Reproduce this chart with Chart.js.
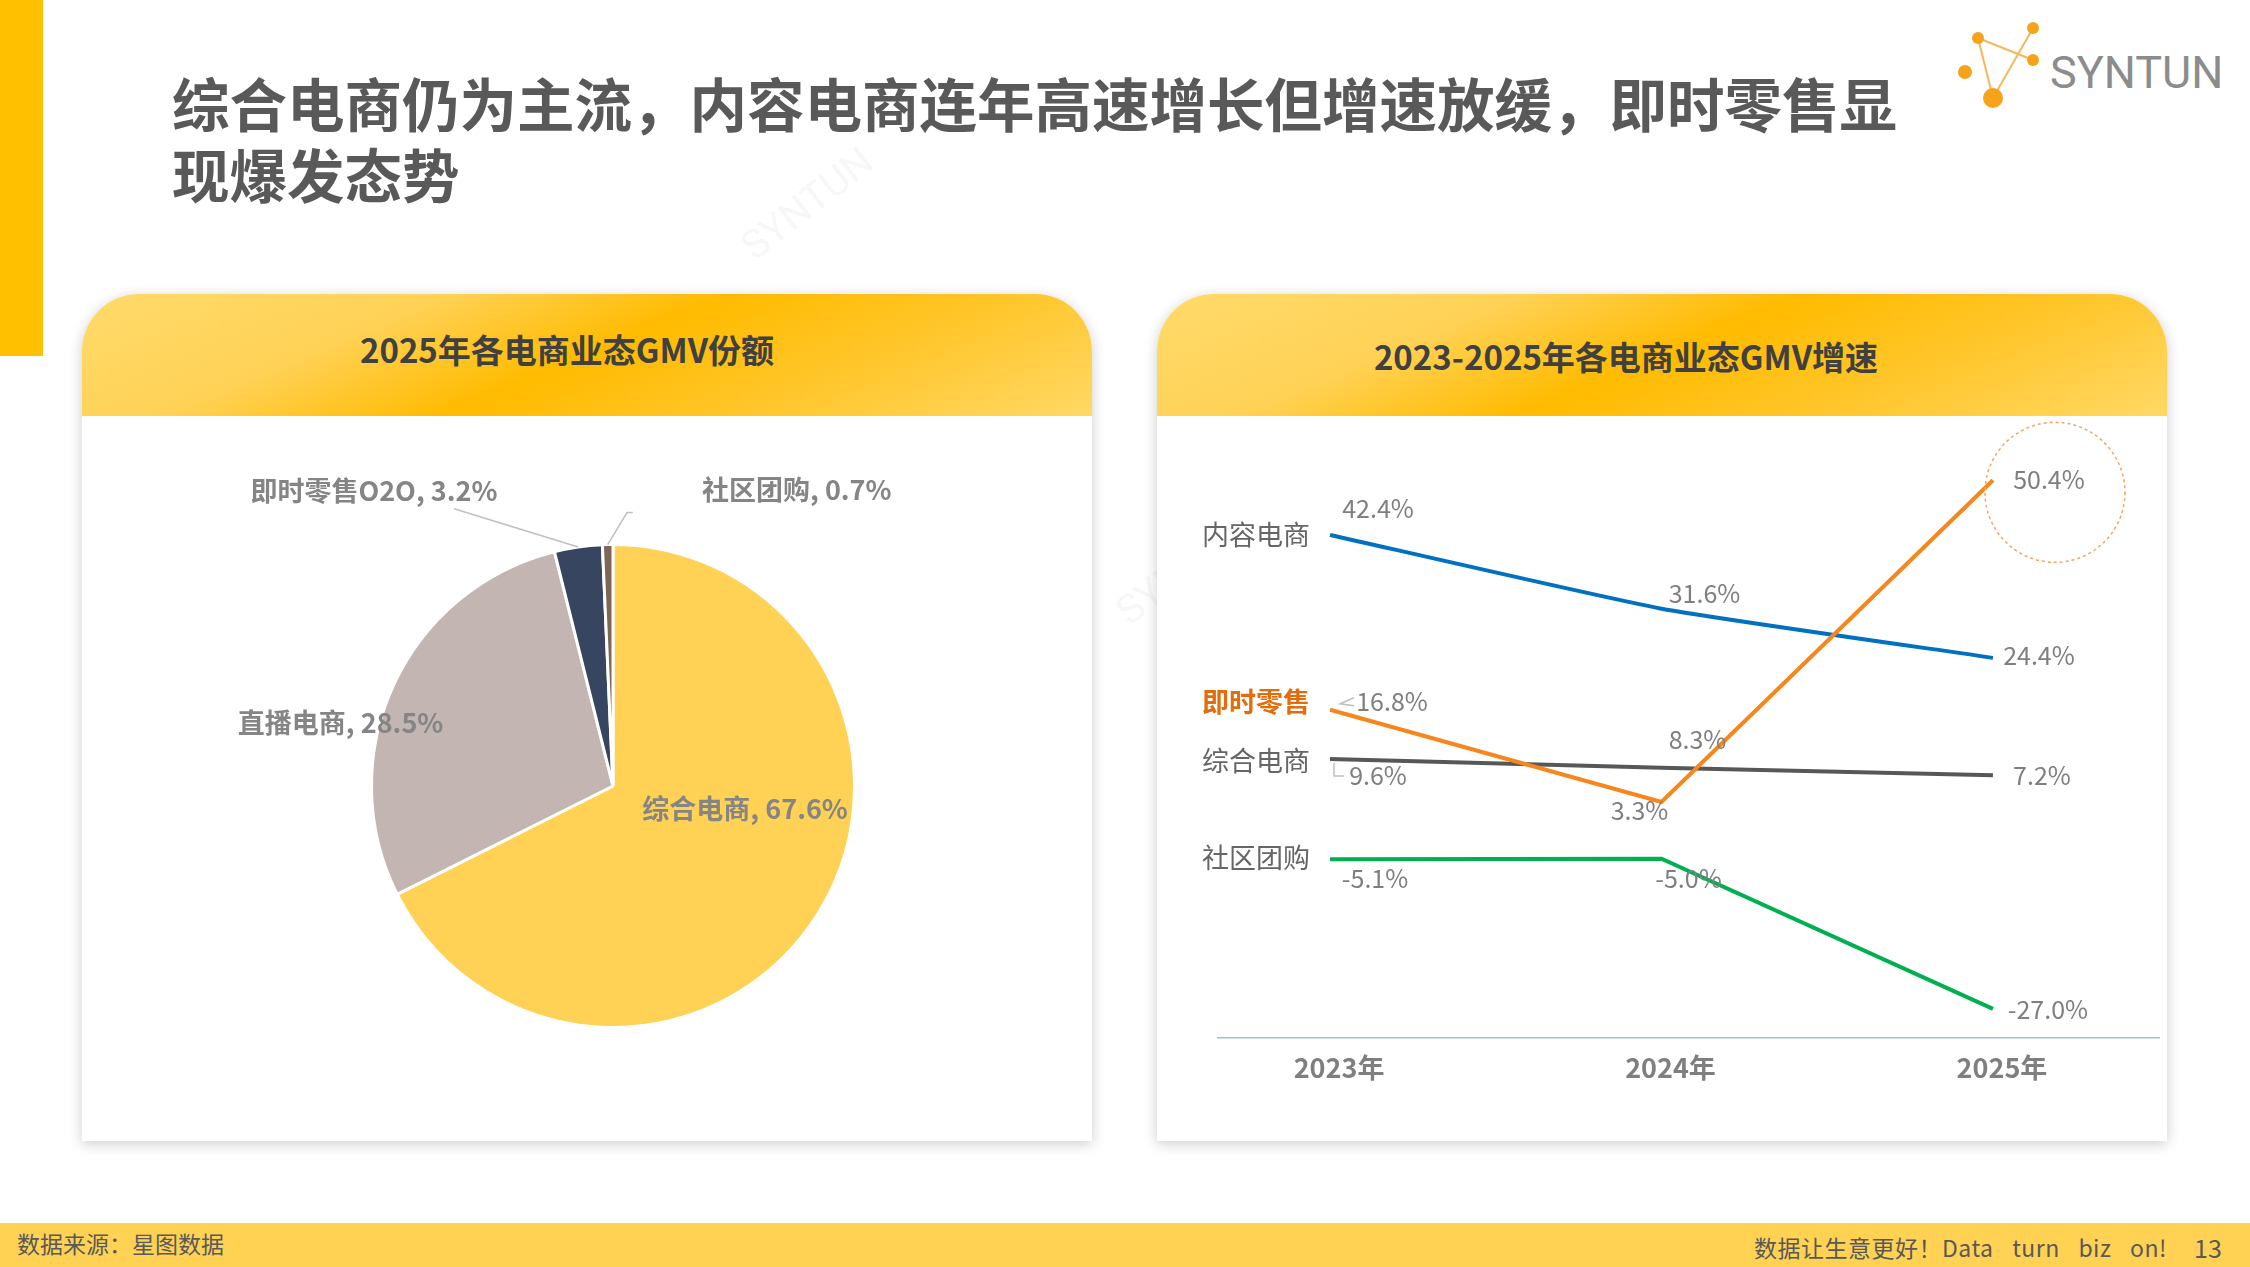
<!DOCTYPE html>
<html><head><meta charset="utf-8">
<script src="https://cdn.jsdelivr.net/npm/chart.js@4.4.1/dist/chart.umd.min.js"></script>
<style>
html,body{margin:0;padding:0;background:#fff;}
#page{position:relative;width:2250px;height:1267px;overflow:hidden;background:#fff;font-family:"Noto Sans CJK SC","Noto Sans",sans-serif;}
.abs{position:absolute;}
#bar{left:0;top:0;width:43px;height:356px;background:#FFC000;}
#title{left:172px;top:67px;font-size:57.5px;font-weight:700;color:#595959;line-height:71px;white-space:nowrap;}
.card{position:absolute;top:294px;width:1010px;height:847px;background:#fff;border-radius:57px 57px 0 0;box-shadow:0 3px 14px rgba(0,0,0,0.20);overflow:hidden;}
.hdr{position:absolute;left:0;top:0;width:100%;height:122px;background:linear-gradient(157deg,#FFDA6A 0%,#FFD257 28%,#FFBB00 50%,#FFC62A 72%,#FFD865 100%);}
.htxt{position:absolute;font-size:33px;font-weight:700;color:#404040;white-space:nowrap;transform:translate(-50%,-50%);}
#footer{left:0;top:1223px;width:2250px;height:44px;background:#FFD254;}
.ftxt{position:absolute;font-size:23px;color:#595959;white-space:nowrap;transform:translateY(-50%);}
#logoTxt{left:2050px;top:72px;font-family:Roboto,"Noto Sans",sans-serif;font-size:45px;color:#8C8C8C;transform:translateY(-50%);}
.wm{position:absolute;font-family:Roboto,sans-serif;font-size:40px;color:rgba(0,0,0,0.05);transform:rotate(-38deg);white-space:nowrap;}
canvas{position:absolute;}
</style></head>
<body><div id="page">
<div id="bar" class="abs"></div>
<div id="title" class="abs">综合电商仍为主流，内容电商连年高速增长但增速放缓，即时零售显<br>现爆发态势</div>
<svg class="abs" style="left:1940px;top:10px" width="110" height="110" viewBox="1940 10 110 110">
  <g stroke="#F4B860" stroke-width="2" fill="none">
    <line x1="1978" y1="38" x2="2033" y2="60"/>
    <line x1="2033" y1="28" x2="1993" y2="98"/>
    <line x1="1978" y1="38" x2="1993" y2="98"/>
  </g>
  <g fill="#F7A21B">
    <circle cx="1978" cy="38" r="6"/>
    <circle cx="2033" cy="28" r="6"/>
    <circle cx="2033" cy="60" r="6"/>
    <circle cx="1965" cy="72" r="7"/>
    <circle cx="1993" cy="98" r="10"/>
  </g>
</svg>
<div id="logoTxt" class="abs">SYNTUN</div>
<div class="wm" style="left:730px;top:180px;">SYNTUN</div>
<div class="wm" style="left:1105px;top:545px;">SYNTUN</div>

<div class="card" style="left:82px;"><div class="hdr"></div>
  <div class="htxt" style="left:485px;top:55px;">2025年各电商业态GMV份额</div></div>
<div class="card" style="left:1157px;"><div class="hdr"></div>
  <div class="htxt" style="left:469px;top:62px;">2023-2025年各电商业态GMV增速</div></div>

<canvas id="pie" width="1010" height="725" style="left:82px;top:416px;"></canvas>
<canvas id="line" width="1003" height="682" style="left:1157px;top:416px;"></canvas>

<div id="footer" class="abs"></div>
<div class="ftxt" style="left:17px;top:1243px;">数据来源：星图数据</div>
<div class="ftxt" style="left:1754px;top:1247px;word-spacing:13px;letter-spacing:0.5px;">数据让生意更好！Data turn biz on!</div>
<div class="ftxt" style="left:2194px;top:1247px;font-size:25px;">13</div>
</div>
<script>
// ---------- data ----------
const pieLabels = ['综合电商', '直播电商', '即时零售O2O', '社区团购'];
const pieValues = [67.6, 28.5, 3.2, 0.7];

const years = ['2023年', '2024年', '2025年'];
const seriesNames = ['内容电商', '即时零售', '综合电商', '社区团购'];
const contentEC = [42.4, 31.6, 24.4];
const instantRetail = [16.8, 3.3, 50.4];
const comprehensiveEC = [9.6, 8.3, 7.2];
const communityGroup = [-5.1, -5.0, -27.0];

// ---------- styles ----------
const FONT = '"Noto Sans CJK SC","Noto Sans",sans-serif';
const pieColors = ['#FFD155', '#C3B5B1', '#384560', '#7F6558'];
// label placement relative to pie centre, in units of radius
const pieLabelPos = [[0.547, 0.095], [-1.128, -0.26], [-0.99, -1.222], [0.761, -1.226]];
const pieLeaders = {2: [[-0.658, -1.148]], 3: [[0.082, -1.132], [0.058, -1.132]]};

const pieLabelPlugin = {
  id: 'pieLabels',
  afterDatasetsDraw(chart) {
    const ctx = chart.ctx;
    const meta = chart.getDatasetMeta(0);
    ctx.save();
    meta.data.forEach((arc, i) => {
      const p = arc.getProps(['x', 'y', 'outerRadius', 'startAngle', 'endAngle'], true);
      const r = p.outerRadius;
      const lx = p.x + pieLabelPos[i][0] * r, ly = p.y + pieLabelPos[i][1] * r;
      if (pieLeaders[i]) {
        const mid = (p.startAngle + p.endAngle) / 2;
        ctx.beginPath();
        ctx.strokeStyle = '#BFBFBF';
        ctx.lineWidth = 1.5;
        ctx.moveTo(p.x + Math.cos(mid) * r, p.y + Math.sin(mid) * r);
        const pts = pieLeaders[i].slice().reverse();
        pts.forEach(pt => ctx.lineTo(p.x + pt[0] * r, p.y + pt[1] * r));
        ctx.stroke();
      }
      ctx.font = '600 27px ' + FONT;
      ctx.fillStyle = '#858585';
      ctx.textAlign = 'center';
      ctx.textBaseline = 'middle';
      ctx.fillText(pieLabels[i] + ', ' + pieValues[i].toFixed(1) + '%', lx, ly);
    });
    ctx.restore();
  }
};

new Chart(document.getElementById('pie'), {
  type: 'pie',
  data: {labels: pieLabels, datasets: [{data: pieValues, backgroundColor: pieColors, borderColor: '#FFFFFF', borderWidth: 3}]},
  options: {
    responsive: false, animation: false, devicePixelRatio: 1,
    layout: {padding: {left: 288, right: 236, top: 127, bottom: 112}},
    plugins: {legend: {display: false}, tooltip: {enabled: false}}
  },
  plugins: [pieLabelPlugin]
});

// ---------- line chart ----------
const lineSeries = [contentEC, instantRetail, comprehensiveEC, communityGroup];
const lineColors = ['#0070C0', '#F7861C', '#575757', '#00B050'];
const lineOrder = [2, 0, 3, 1];
const nameColors = ['#666666', '#E46C0A', '#666666', '#666666'];
const nameWeights = ['400', '700', '400', '400'];
const nameDy = [0, -8, 2, -2];
const valOffsets = [
  [[48, -26], [43, -15], [46, -2]],
  [[62, -8], [-22, 9], [56, -1]],
  [[48, 17], [36, -28], [49, 0]],
  [[45, 19], [27, 20], [55, 1]]
];

const lineLabelPlugin = {
  id: 'lineLabels',
  afterDatasetsDraw(chart) {
    const ctx = chart.ctx;
    ctx.save();
    chart.data.datasets.forEach((ds, i) => {
      const meta = chart.getDatasetMeta(i);
      meta.data.forEach((pt, j) => {
        const v = lineSeries[i][j];
        ctx.font = '400 25px ' + FONT;
        ctx.fillStyle = '#7F7F7F';
        ctx.textAlign = 'center';
        ctx.textBaseline = 'middle';
        ctx.fillText(v.toFixed(1) + '%', pt.x + valOffsets[i][j][0], pt.y + valOffsets[i][j][1]);
      });
      const p0 = meta.data[0];
      ctx.font = nameWeights[i] + ' 27px ' + FONT;
      ctx.fillStyle = nameColors[i];
      ctx.textAlign = 'right';
      ctx.textBaseline = 'middle';
      ctx.fillText(seriesNames[i], p0.x - 20, p0.y + nameDy[i]);
    });
    // small leader marks
    const mA = chart.getDatasetMeta(1).data[0];
    const mB = chart.getDatasetMeta(2).data[0];
    ctx.strokeStyle = '#BFBFBF'; ctx.lineWidth = 1.5;
    ctx.beginPath();
    ctx.moveTo(mA.x + 24, mA.y - 12); ctx.lineTo(mA.x + 10, mA.y - 6); ctx.lineTo(mA.x + 24, mA.y - 4);
    ctx.stroke();
    ctx.beginPath();
    ctx.moveTo(mB.x + 4, mB.y + 4); ctx.lineTo(mB.x + 4, mB.y + 17); ctx.lineTo(mB.x + 14, mB.y + 17);
    ctx.stroke();
    // dashed highlight circle around the 2025 即时零售 point
    const hp = chart.getDatasetMeta(1).data[2];
    ctx.strokeStyle = '#F4A460'; ctx.lineWidth = 1.5; ctx.setLineDash([3, 3]);
    ctx.beginPath(); ctx.arc(hp.x + 62, hp.y + 12, 70, 0, Math.PI * 2); ctx.stroke();
    ctx.restore();
  }
};

new Chart(document.getElementById('line'), {
  type: 'line',
  data: {
    datasets: lineSeries.map((s, i) => ({
      label: seriesNames[i],
      data: s.map((v, j) => ({x: j, y: v})),
      borderColor: lineColors[i], backgroundColor: lineColors[i],
      borderWidth: 4, pointRadius: 0, tension: i === 0 ? 0.15 : 0,
      order: lineOrder[i], fill: false
    }))
  },
  options: {
    responsive: false, animation: false, devicePixelRatio: 1,
    layout: {padding: {left: 61, top: 24, right: 0, bottom: 0}},
    scales: {
      x: {
        type: 'linear', min: -0.338, max: 2.504,
        afterBuildTicks: (scale) => { scale.ticks = years.map((_, i) => ({value: i})); },
        ticks: {callback: (v) => years[v] ?? '', font: {family: FONT, size: 27, weight: '700'}, color: '#7F7F7F', padding: 14, labelOffset: 9, maxRotation: 0, autoSkip: false},
        grid: {display: false, drawTicks: false},
        border: {display: true, color: '#A9BCD0', width: 1.5}
      },
      y: {display: false, min: -31.2, max: 56.3}
    },
    plugins: {legend: {display: false}, tooltip: {enabled: false}}
  },
  plugins: [lineLabelPlugin]
});
</script>
</body></html>
